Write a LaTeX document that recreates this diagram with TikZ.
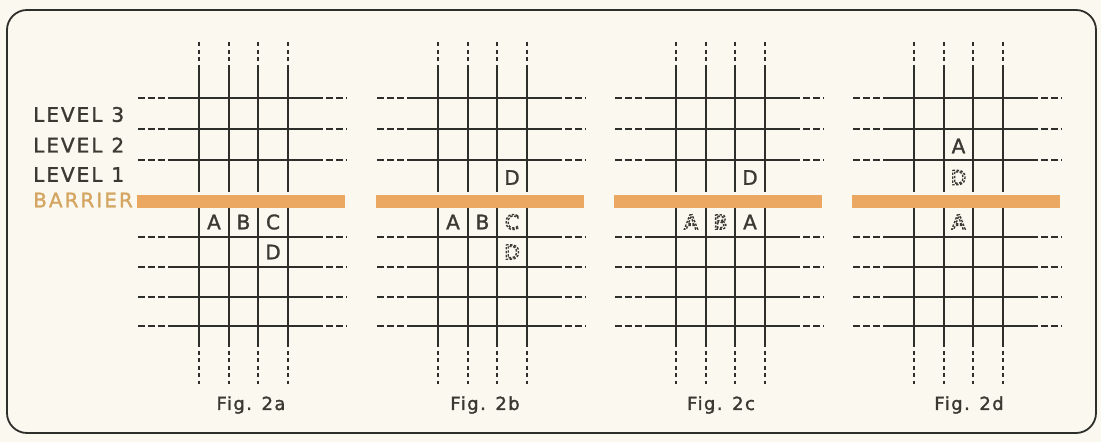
\documentclass[tikz,border=0pt]{standalone}
\usepackage{fontspec}
\setmainfont{DejaVu Sans}
\newfontfamily\lblfont[LetterSpace=10]{DejaVu Sans}
\newfontfamily\figfont[LetterSpace=8]{DejaVu Sans}
\definecolor{bg}{HTML}{FBF9EF}
\definecolor{barrierc}{HTML}{EAA862}
\definecolor{barriertxt}{HTML}{D4A662}
\definecolor{ink}{HTML}{2E2E2A}
\definecolor{txtink}{HTML}{3A3A33}
\newcommand\dashltr[1]{\special{pdf:literal direct 1 Tr 1.35 w [2.4 1.5] 0 d}#1\special{pdf:literal direct 0 Tr [] 0 d 1 w}}
\newcommand\heavy[1]{\special{pdf:literal direct 2 Tr 0.3 w}#1\special{pdf:literal direct 0 Tr 1 w}}
\tikzset{
  gridline/.style={draw=ink,line width=2pt},
  dashedv/.style={draw=ink,line width=1.2pt,dash pattern=on 4pt off 3.5pt},
  dashedh/.style={draw=ink,line width=1.4pt,dash pattern=on 6.5pt off 3.5pt},
  lvl/.style={inner sep=0pt,anchor=west,text=txtink,font=\lblfont\fontsize{20}{20}\selectfont},
  cell/.style={inner sep=0pt,text=txtink,font=\fontsize{20}{20}\selectfont},
  figlbl/.style={inner sep=0pt,text=txtink,font=\figfont\fontsize{18}{18}\selectfont},
}
\begin{document}
\begin{tikzpicture}[x=1pt,y=-1pt]
\useasboundingbox[fill=bg] (0,0) rectangle (1101,442);
\draw[ink,line width=1.8pt,rounded corners=20pt] (7,10) rectangle (1096,433);
\foreach \xo in {199,438,676,914} {
  \foreach \dx in {0,30,59,89} {
    \draw[gridline] (\xo+\dx,67) -- (\xo+\dx,192);
    \draw[dashedv] (\xo+\dx,42) -- (\xo+\dx,67);
    \draw[gridline] (\xo+\dx,206) -- (\xo+\dx,343);
    \draw[dashedv] (\xo+\dx,343) -- (\xo+\dx,384);
  }
  \foreach \y in {98,129,160,237,267,297,326} {
    \draw[gridline] (\xo-31,\y) -- (\xo+117,\y);
    \draw[dashedh] (\xo-61,\y) -- (\xo-31,\y);
    \draw[dashedh] (\xo+117,\y) -- (\xo+148,\y);
  }
  \fill[barrierc] (\xo-62,195) rectangle (\xo+146,208);
}
% level labels
\node[lvl] (l3) at (33,114.5) {\heavy{LEVEL\hspace{9pt}3}};
\node[lvl] (l2) at (33,145) {\heavy{LEVEL\hspace{9pt}2}};
\node[lvl] (l1) at (33,174.5) {\heavy{LEVEL\hspace{9pt}1}};
\node[lvl,text=barriertxt] (lb) at (33,200) {\heavy{BARRIER}};
% Fig 2a
\node[cell] (aA) at (214,222) {\heavy{A}};
\node[cell] (aB) at (243.5,222) {\heavy{B}};
\node[cell] (aC) at (273,222) {\heavy{C}};
\node[cell] (aD) at (273,252) {\heavy{D}};
% Fig 2b
\node[cell] (bD) at (512,177.5) {\heavy{D}};
\node[cell] (bA) at (453,222) {\heavy{A}};
\node[cell] (bB) at (482.5,222) {\heavy{B}};
\node[cell] (bC) at (512,222) {\dashltr{C}};
\node[cell] (bD2) at (512,252) {\dashltr{D}};
% Fig 2c
\node[cell] (cD) at (750,177.5) {\heavy{D}};
\node[cell] (cA) at (691,222) {\dashltr{A}};
\node[cell] (cB) at (720.5,222) {\dashltr{B}};
\node[cell] (cA2) at (750,222) {\heavy{A}};
% Fig 2d
\node[cell] (dA) at (958.5,146) {\heavy{A}};
\node[cell] (dD) at (958.5,177.5) {\dashltr{D}};
\node[cell] (dA2) at (958.5,222) {\dashltr{A}};
% figure captions
\node[figlbl] (fa) at (251,405) {\heavy{Fig. 2a}};
\node[figlbl] (fb) at (485,405) {\heavy{Fig. 2b}};
\node[figlbl] (fc) at (721,405) {\heavy{Fig. 2c}};
\node[figlbl] (fd) at (969,405) {\heavy{Fig. 2d}};
\end{tikzpicture}
\end{document}
